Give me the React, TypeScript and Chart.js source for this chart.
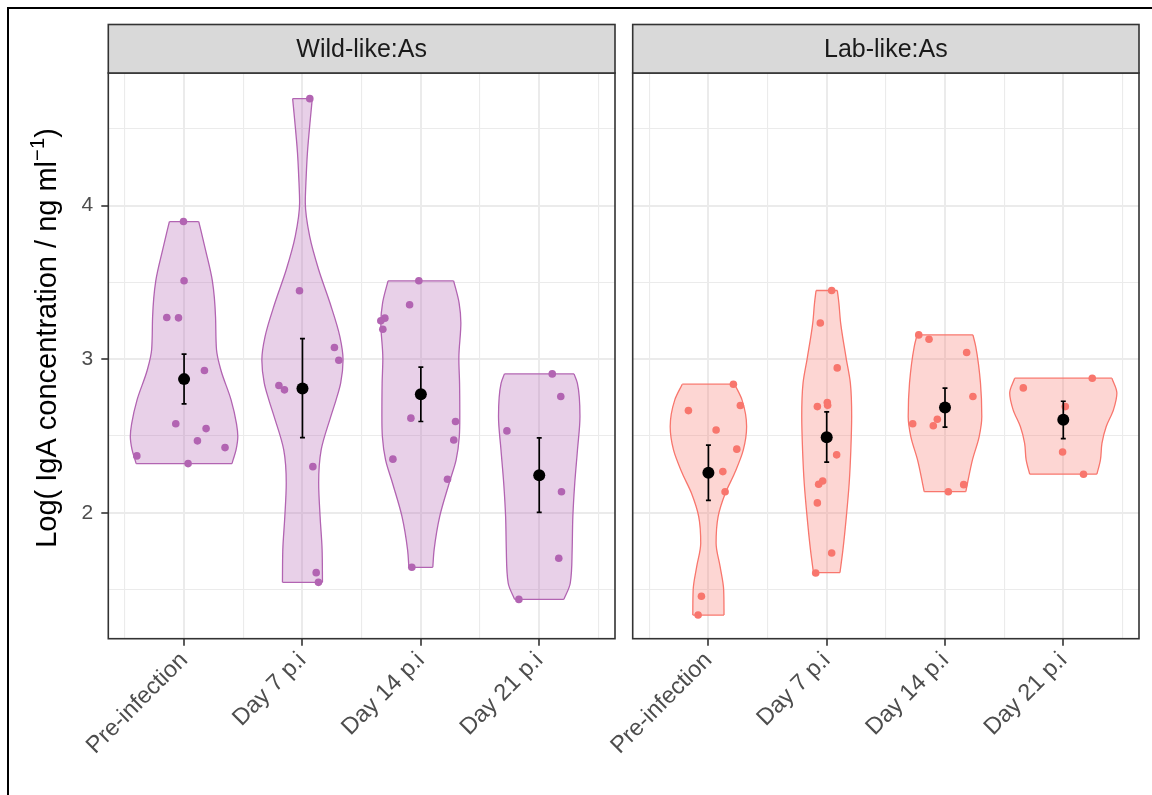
import React, { useEffect, useRef } from 'react';
import { Chart, registerables } from 'chart.js';

Chart.register(...registerables);

const FONT = "'Liberation Sans', Arial, Helvetica, sans-serif";

const FACETS = ['Wild-like:As', 'Lab-like:As'];
const CATEGORIES = ['Pre-infection', 'Day 7 p.i', 'Day 14 p.i', 'Day 21 p.i'];
const Y_TICKS = [1.5, 2, 2.5, 3, 3.5, 4, 4.5];
const X_TICKS = [0.5, 1, 1.5, 2, 2.5, 3, 3.5, 4, 4.5];
const Y_RANGE = [1.18, 4.863];
const X_RANGE = [0.36, 4.64];

// ---- Wild-like:As : observations (log IgA) and their horizontal jitter ----
const WILD_PRE = [3.896, 3.51, 3.271, 3.269, 2.926, 2.579, 2.548, 2.468, 2.424, 2.37, 2.32];
const WILD_PRE_JITTER = [-0.005, 0.0, -0.146, -0.047, 0.172, -0.07, 0.186, 0.113, 0.346, -0.399, 0.034];
const WILD_D7 = [4.696, 3.445, 3.076, 2.993, 2.828, 2.8, 2.3, 1.61, 1.547];
const WILD_D7_JITTER = [0.062, -0.025, 0.27, 0.307, -0.199, -0.152, 0.088, 0.116, 0.135];
const WILD_D14 = [3.51, 3.354, 3.267, 3.25, 3.195, 2.616, 2.594, 2.474, 2.349, 2.218, 1.645];
const WILD_D14_JITTER = [-0.017, -0.095, -0.304, -0.338, -0.321, -0.084, 0.293, 0.278, -0.236, 0.225, -0.076];
const WILD_D21 = [2.904, 2.757, 2.533, 2.137, 1.704, 1.436];
const WILD_D21_JITTER = [0.11, 0.182, -0.273, 0.188, 0.165, -0.172];

// ---- Lab-like:As ----
const LAB_PRE = [2.837, 2.698, 2.665, 2.539, 2.414, 2.268, 2.137, 1.456, 1.334];
const LAB_PRE_JITTER = [0.211, 0.27, -0.169, 0.065, 0.24, 0.122, 0.141, -0.059, -0.087];
const LAB_D7 = [3.447, 3.235, 2.943, 2.717, 2.7, 2.691, 2.377, 2.207, 2.186, 2.064, 1.738, 1.608];
const LAB_D7_JITTER = [0.042, -0.054, 0.089, 0.005, 0.008, -0.079, 0.084, -0.034, -0.068, -0.079, 0.042, -0.093];
const LAB_D14 = [3.158, 3.13, 3.043, 2.757, 2.609, 2.579, 2.566, 2.183, 2.137];
const LAB_D14_JITTER = [-0.222, -0.135, 0.183, 0.236, -0.065, -0.273, -0.099, 0.158, 0.028];
const LAB_D21 = [2.876, 2.813, 2.691, 2.396, 2.251];
const LAB_D21_JITTER = [0.245, -0.338, 0.017, -0.006, 0.171];

// ---- violin outlines: levels from top to bottom and half-widths (category units) ----
const WILD_PRE_VIOLIN_Y = [3.896, 3.712, 3.51, 3.271, 3.061, 2.926, 2.735, 2.579, 2.496, 2.409, 2.344, 2.32];
const WILD_PRE_VIOLIN_W = [0.124, 0.181, 0.239, 0.266, 0.274, 0.312, 0.397, 0.443, 0.454, 0.439, 0.414, 0.405];
const WILD_D7_VIOLIN_Y = [4.696, 4.559, 4.344, 4.18, 4.018, 3.799, 3.582, 3.367, 3.147, 2.995, 2.846, 2.735, 2.626, 2.409, 2.194, 1.975, 1.758, 1.547];
const WILD_D7_VIOLIN_W = [0.083, 0.066, 0.042, 0.031, 0.024, 0.061, 0.137, 0.232, 0.316, 0.343, 0.323, 0.284, 0.239, 0.158, 0.137, 0.149, 0.166, 0.169];
const WILD_D14_VIOLIN_Y = [3.51, 3.367, 3.236, 3.004, 2.844, 2.626, 2.496, 2.344, 2.192, 1.975, 1.758, 1.645];
const WILD_D14_VIOLIN_W = [0.277, 0.323, 0.338, 0.321, 0.327, 0.329, 0.325, 0.298, 0.239, 0.159, 0.112, 0.101];
const WILD_D21_VIOLIN_Y = [2.904, 2.844, 2.626, 2.409, 2.192, 1.975, 1.758, 1.541, 1.436];
const WILD_D21_VIOLIN_W = [0.294, 0.322, 0.344, 0.323, 0.3, 0.284, 0.278, 0.262, 0.208];

const LAB_PRE_VIOLIN_Y = [2.837, 2.735, 2.561, 2.409, 2.257, 2.127, 1.975, 1.801, 1.649, 1.497, 1.334];
const LAB_PRE_VIOLIN_W = [0.221, 0.284, 0.323, 0.295, 0.221, 0.143, 0.082, 0.065, 0.099, 0.129, 0.132];
const LAB_D7_VIOLIN_Y = [3.447, 3.365, 3.235, 3.004, 2.844, 2.626, 2.409, 2.192, 1.975, 1.758, 1.61];
const LAB_D7_VIOLIN_W = [0.09, 0.103, 0.118, 0.165, 0.2, 0.211, 0.204, 0.19, 0.166, 0.137, 0.112];
const LAB_D14_VIOLIN_Y = [3.158, 3.082, 2.844, 2.626, 2.496, 2.344, 2.192, 2.137];
const LAB_D14_VIOLIN_W = [0.236, 0.26, 0.3, 0.311, 0.289, 0.232, 0.19, 0.176];
const LAB_D21_VIOLIN_Y = [2.876, 2.779, 2.67, 2.561, 2.453, 2.344, 2.251];
const LAB_D21_VIOLIN_W = [0.411, 0.453, 0.424, 0.363, 0.327, 0.314, 0.284];

// ---- group means with standard-error limits ----
const WILD_MEAN = [2.87, 2.809, 2.772, 2.244];
const WILD_SE_LOW = [2.709, 2.489, 2.594, 2.003];
const WILD_SE_HIGH = [3.033, 3.134, 2.948, 2.487];
const LAB_MEAN = [2.261, 2.492, 2.685, 2.605];
const LAB_SE_LOW = [2.081, 2.329, 2.557, 2.483];
const LAB_SE_HIGH = [2.44, 2.657, 2.811, 2.726];

const PURPLE = '#B264B2';
const PURPLE_FILL = 'rgba(178,100,178,0.3)';
const RED = '#F8766D';
const RED_FILL = 'rgba(248,118,109,0.3)';
const GRID = '#EBEBEB';
const DARK = '#333333';
const TICK_TEXT = '#4D4D4D';

type Panel = {
  label: string;
  values: number[][];
  jitter: number[][];
  violinY: number[][];
  violinW: number[][];
  mean: number[];
  low: number[];
  high: number[];
  color: string;
  fill: string;
};

const PANELS: Panel[] = [
  {
    label: FACETS[0],
    values: [WILD_PRE, WILD_D7, WILD_D14, WILD_D21],
    jitter: [WILD_PRE_JITTER, WILD_D7_JITTER, WILD_D14_JITTER, WILD_D21_JITTER],
    violinY: [WILD_PRE_VIOLIN_Y, WILD_D7_VIOLIN_Y, WILD_D14_VIOLIN_Y, WILD_D21_VIOLIN_Y],
    violinW: [WILD_PRE_VIOLIN_W, WILD_D7_VIOLIN_W, WILD_D14_VIOLIN_W, WILD_D21_VIOLIN_W],
    mean: WILD_MEAN,
    low: WILD_SE_LOW,
    high: WILD_SE_HIGH,
    color: PURPLE,
    fill: PURPLE_FILL,
  },
  {
    label: FACETS[1],
    values: [LAB_PRE, LAB_D7, LAB_D14, LAB_D21],
    jitter: [LAB_PRE_JITTER, LAB_D7_JITTER, LAB_D14_JITTER, LAB_D21_JITTER],
    violinY: [LAB_PRE_VIOLIN_Y, LAB_D7_VIOLIN_Y, LAB_D14_VIOLIN_Y, LAB_D21_VIOLIN_Y],
    violinW: [LAB_PRE_VIOLIN_W, LAB_D7_VIOLIN_W, LAB_D14_VIOLIN_W, LAB_D21_VIOLIN_W],
    mean: LAB_MEAN,
    low: LAB_SE_LOW,
    high: LAB_SE_HIGH,
    color: RED,
    fill: RED_FILL,
  },
];

const CAP = 0.021; // half-width of error-bar caps, category units

function buildDatasets(p: Panel): any[] {
  const sets: any[] = [];
  p.violinY.forEach((ys, i) => {
    const c = i + 1;
    const ws = p.violinW[i];
    const outline = {
      type: 'line',
      borderColor: p.color,
      borderWidth: 1.3,
      pointRadius: 0,
      pointHoverRadius: 0,
    };
    // left side carries the fill across to the right side (next dataset)
    sets.push({
      ...outline,
      indexAxis: 'y',
      cubicInterpolationMode: 'monotone',
      data: ys.map((y, k) => ({ x: c - ws[k], y })),
      fill: '+1',
      backgroundColor: p.fill,
      order: 5,
    });
    sets.push({
      ...outline,
      indexAxis: 'y',
      cubicInterpolationMode: 'monotone',
      data: ys.map((y, k) => ({ x: c + ws[k], y })),
      fill: false,
      order: 4,
    });
    const last = ys.length - 1;
    sets.push({
      ...outline,
      data: [{ x: c - ws[0], y: ys[0] }, { x: c + ws[0], y: ys[0] }],
      fill: false,
      order: 4,
    });
    sets.push({
      ...outline,
      data: [{ x: c - ws[last], y: ys[last] }, { x: c + ws[last], y: ys[last] }],
      fill: false,
      order: 4,
    });
  });

  const pts: { x: number; y: number }[] = [];
  p.values.forEach((vals, i) => {
    vals.forEach((v, k) => pts.push({ x: i + 1 + p.jitter[i][k], y: v }));
  });
  sets.push({
    type: 'line',
    showLine: false,
    data: pts,
    pointRadius: 3.8,
    pointHoverRadius: 3.8,
    pointBackgroundColor: p.color,
    pointBorderWidth: 0,
    order: 3,
  });

  const bars: { x: number; y: number | null }[] = [];
  p.mean.forEach((_, i) => {
    const c = i + 1;
    bars.push({ x: c - CAP, y: p.high[i] }, { x: c + CAP, y: p.high[i] }, { x: c, y: null });
    bars.push({ x: c, y: p.high[i] }, { x: c, y: p.low[i] }, { x: c, y: null });
    bars.push({ x: c - CAP, y: p.low[i] }, { x: c + CAP, y: p.low[i] }, { x: c, y: null });
  });
  sets.push({
    type: 'line',
    data: bars,
    borderColor: '#000000',
    borderWidth: 1.7,
    pointRadius: 0,
    pointHoverRadius: 0,
    spanGaps: false,
    fill: false,
    order: 2,
  });

  sets.push({
    type: 'line',
    showLine: false,
    data: p.mean.map((m, i) => ({ x: i + 1, y: m })),
    pointRadius: 6,
    pointHoverRadius: 6,
    pointBackgroundColor: '#000000',
    pointBorderWidth: 0,
    order: 1,
  });
  return sets;
}

// panel border and facet strip, drawn over the data like ggplot's theme_bw
const panelFrame = {
  id: 'panelFrame',
  afterDatasetsDraw(chart: any, _args: any, opts: any) {
    const { ctx, chartArea: a } = chart;
    const stripTop = 24.5;
    ctx.save();
    ctx.strokeStyle = DARK;
    ctx.lineWidth = 1.6;
    ctx.strokeRect(a.left, a.top, a.right - a.left, a.bottom - a.top);
    ctx.fillStyle = '#D9D9D9';
    ctx.fillRect(a.left, stripTop, a.right - a.left, a.top - stripTop);
    ctx.strokeRect(a.left, stripTop, a.right - a.left, a.top - stripTop);
    ctx.fillStyle = '#1A1A1A';
    ctx.font = `25px ${FONT}`;
    ctx.textAlign = 'center';
    ctx.textBaseline = 'middle';
    ctx.fillText(opts.label, (a.left + a.right) / 2, (stripTop + a.top) / 2 + 1);
    ctx.restore();
  },
};

// y-axis title with a superscript exponent
const yTitle = {
  id: 'yTitle',
  afterDraw(chart: any, _args: any, opts: any) {
    if (!opts || !opts.show) return;
    const { ctx } = chart;
    const size = 29;
    const small = size * 0.7;
    const main = 'Log( IgA concentration / ng ml';
    const sup = '\u22121';
    const close = ')';
    ctx.save();
    ctx.fillStyle = '#000000';
    ctx.font = `${size}px ${FONT}`;
    const w1 = ctx.measureText(main).width;
    const w3 = ctx.measureText(close).width;
    ctx.font = `${small}px ${FONT}`;
    const w2 = ctx.measureText(sup).width;
    const total = w1 + w2 + w3;
    ctx.translate(56, 338);
    ctx.rotate(-Math.PI / 2);
    ctx.textAlign = 'left';
    ctx.textBaseline = 'alphabetic';
    let x = -total / 2;
    ctx.font = `${size}px ${FONT}`;
    ctx.fillText(main, x, 0);
    x += w1;
    ctx.font = `${small}px ${FONT}`;
    ctx.fillText(sup, x, -size * 0.42);
    x += w2;
    ctx.font = `${size}px ${FONT}`;
    ctx.fillText(close, x, 0);
    ctx.restore();
  },
};

const isMajor = (v: number) => Number.isInteger(v);

function makeConfig(p: Panel, showY: boolean, padLeft: number, padRight: number, yWidth: number): any {
  const gridWidth = (c: any) => (c.tick && isMajor(c.tick.value) ? 2 : 1.1);
  const tickColor = (c: any) => (c.tick && isMajor(c.tick.value) ? DARK : 'rgba(0,0,0,0)');
  return {
    type: 'line',
    data: { datasets: buildDatasets(p) },
    plugins: [panelFrame, yTitle],
    options: {
      responsive: false,
      maintainAspectRatio: false,
      animation: false,
      events: [],
      layout: { autoPadding: false, padding: { left: padLeft, right: padRight, top: 73, bottom: 0 } },
      plugins: {
        legend: { display: false },
        tooltip: { enabled: false },
        panelFrame: { label: p.label },
        yTitle: { show: showY },
      },
      scales: {
        x: {
          type: 'linear',
          min: X_RANGE[0],
          max: X_RANGE[1],
          afterBuildTicks: (s: any) => {
            s.ticks = X_TICKS.map((v) => ({ value: v }));
          },
          afterFit: (s: any) => {
            s.height = 156.3;
          },
          ticks: {
            autoSkip: false,
            minRotation: 45,
            maxRotation: 45,
            padding: 1,
            color: TICK_TEXT,
            font: { family: FONT, size: 23.5 },
            callback: (v: number) => (isMajor(v) ? CATEGORIES[v - 1] : ''),
          },
          grid: {
            color: GRID,
            lineWidth: gridWidth,
            tickLength: 7,
            tickColor,
            tickWidth: 1.6,
          },
          border: { display: false },
        },
        y: {
          type: 'linear',
          min: Y_RANGE[0],
          max: Y_RANGE[1],
          afterBuildTicks: (s: any) => {
            s.ticks = Y_TICKS.map((v) => ({ value: v }));
          },
          afterFit: (s: any) => {
            s.width = yWidth;
          },
          ticks: {
            display: showY,
            padding: 8,
            color: TICK_TEXT,
            font: { family: FONT, size: 21 },
            callback: (v: number) => (isMajor(v) ? String(v) : ''),
          },
          grid: {
            color: GRID,
            lineWidth: gridWidth,
            drawTicks: showY,
            tickLength: 7,
            tickColor,
            tickWidth: 1.6,
          },
          border: { display: false },
        },
      },
    },
  };
}

export default function App() {
  const leftRef = useRef<HTMLCanvasElement | null>(null);
  const rightRef = useRef<HTMLCanvasElement | null>(null);

  useEffect(() => {
    const charts: Chart[] = [];
    if (leftRef.current) {
      charts.push(new Chart(leftRef.current, makeConfig(PANELS[0], true, 0, 5, 108.3)));
    }
    if (rightRef.current) {
      charts.push(new Chart(rightRef.current, makeConfig(PANELS[1], false, 72.7, 13, 0)));
    }
    return () => charts.forEach((c) => c.destroy());
  }, []);

  return (
    <div
      style={{
        position: 'fixed',
        left: 0,
        top: 0,
        width: 1152,
        height: 795,
        overflow: 'hidden',
        background: '#ffffff',
      }}
    >
      <canvas
        ref={leftRef}
        width={620}
        height={795}
        style={{ position: 'absolute', left: 0, top: 0, width: 620, height: 795 }}
      />
      <canvas
        ref={rightRef}
        width={592}
        height={795}
        style={{ position: 'absolute', left: 560, top: 0, width: 592, height: 795 }}
      />
      <div
        style={{
          position: 'absolute',
          left: 7,
          top: 7,
          width: 1200,
          height: 900,
          borderTop: '2px solid #000',
          borderLeft: '2px solid #000',
          pointerEvents: 'none',
        }}
      />
    </div>
  );
}
